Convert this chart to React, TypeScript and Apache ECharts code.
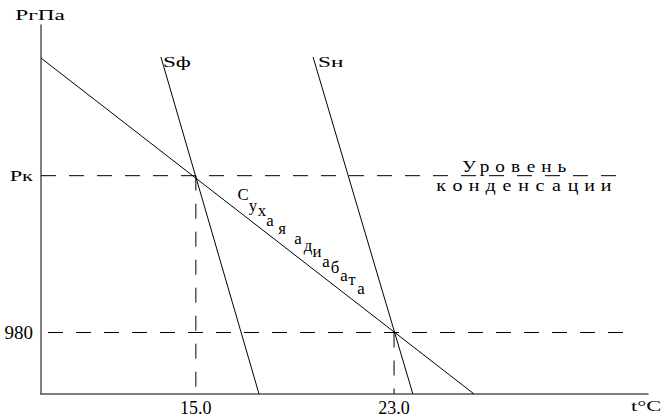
import React, { useEffect, useRef } from "react";
import * as echarts from "echarts";

// Temperature (°C) and pressure (hPa) of the two marked levels
const TEMP_TICKS = [15.0, 23.0];
const P_GROUND = 980;
const P_COND = 878; // condensation level, labelled "Pк"
const PRESSURE_TICKS = [P_COND, P_GROUND];

// Line endpoints as [t, p]
const dryAdiabat = [
  [8.75, 801.5],
  [26.23, 1020],
];
const isoSf = [
  [17.55, 1020],
  [13.59, 800.8],
];
const isoSn = [
  [23.76, 1020],
  [19.73, 800.8],
];
const condLevel = [
  [8.75, P_COND],
  [32.1, P_COND],
];
const groundLevel = [
  [8.75, P_GROUND],
  [32.3, P_GROUND],
];
const condTemp = [
  [15.0, P_COND],
  [15.0, 1020],
];
const groundTemp = [
  [23.0, P_GROUND],
  [23.0, 1020],
];

const LEVEL_WORD_1 = "Уровень";
const LEVEL_WORD_2 = "конденсации";
const ADIABAT_TEXT = "Сухая адиабата";

const FONT = "'Liberation Serif', 'Times New Roman', serif";

export default function App() {
  const ref = useRef<HTMLDivElement>(null);

  useEffect(() => {
    if (!ref.current) return;
    const chart = echarts.init(ref.current, null, { renderer: "svg" });

    const solid = { color: "#000", width: 1 };
    const dashed = { color: "#000", width: 1, type: [15, 13] as number[] };
    const line = (data: number[][], lineStyle: any, z = 2) => ({
      type: "line",
      data,
      showSymbol: false,
      symbol: "none",
      silent: true,
      z,
      lineStyle,
    });

    chart.setOption({
      animation: false,
      backgroundColor: "#fff",
      grid: { left: 41, right: 16, top: 25, bottom: 23, containLabel: false },
      xAxis: {
        type: "value",
        min: 8.75,
        max: 33.25,
        splitLine: { show: false },
        axisLine: { show: true, onZero: false, lineStyle: { color: "#555", width: 1.5 } },
        axisTick: { show: false },
        axisLabel: {
          customValues: TEMP_TICKS,
          formatter: (v: number) => v.toFixed(1),
          color: "#000",
          fontFamily: FONT,
          fontSize: 18,
          margin: 5,
        },
      },
      yAxis: {
        type: "value",
        inverse: true,
        min: 780,
        max: 1020,
        splitLine: { show: false },
        axisLine: { show: true, onZero: false, lineStyle: { color: "#555", width: 1.5 } },
        axisTick: { show: false },
        axisLabel: {
          customValues: [P_GROUND],
          formatter: (v: number) => String(v),
          color: "#000",
          fontFamily: FONT,
          fontSize: 19,
          margin: 8,
        },
      },
      series: [
        line(condLevel, { ...dashed }),
        line(groundLevel, { ...dashed, dashOffset: 21 }),
        line(condTemp, { ...dashed }),
        line(groundTemp, { ...dashed }),
        line(dryAdiabat, solid, 3),
        line(isoSf, solid, 3),
        line(isoSn, solid, 3),
      ],
    });

    const txt = (
      text: string,
      x: number,
      y: number,
      size: number,
      scaleX = 1,
      align = "center"
    ) => ({
      type: "text",
      x,
      y,
      scaleX,
      style: {
        text,
        fill: "#000",
        font: `${size}px ${FONT}`,
        textAlign: align,
        textVerticalAlign: "middle",
      },
    });

    const graphics: any[] = [];

    // axis names
    graphics.push(txt("PгПа", 40, 15, 15, 1.55));
    graphics.push(txt("t°C", 646, 406, 15, 1.5));

    // condensation pressure mark on the vertical axis
    const pk = chart.convertToPixel({ gridIndex: 0 }, [8.75, PRESSURE_TICKS[0]]) as number[];
    graphics.push(txt("Pк", 33, pk[1], 14, 1.6, "right"));

    // isoline labels next to their upper ends
    const sfTop = chart.convertToPixel({ gridIndex: 0 }, isoSf[1]) as number[];
    const snTop = chart.convertToPixel({ gridIndex: 0 }, isoSn[1]) as number[];
    graphics.push(txt("Sф", sfTop[0] + 2, sfTop[1] + 5, 15, 1.55, "left"));
    graphics.push(txt("Sн", snTop[0] + 5, snTop[1] + 5, 15, 1.55, "left"));

    // spaced-out caption of the condensation level
    Array.from(LEVEL_WORD_1).forEach((ch, i) => {
      graphics.push(txt(ch, 469 + 15.5 * i, 167, 16, 1.2));
    });
    Array.from(LEVEL_WORD_2).forEach((ch, i) => {
      graphics.push(txt(ch, 441 + 16.5 * i, 186, 16, 1.25));
    });

    // staggered caption along the dry adiabat
    const adiabatLetters: number[][] = [
      [243, 195], [253, 206], [262, 211], [270, 221], [282, 229],
      [298, 239], [308, 246], [317, 252], [326, 262], [335, 268],
      [344, 276], [352, 280], [361, 289],
    ];
    Array.from(ADIABAT_TEXT.replace(" ", "")).forEach((ch, i) => {
      const [x, y] = adiabatLetters[i];
      graphics.push(txt(ch, x, y, 16, 1.05));
    });

    chart.setOption({ graphic: graphics });

    return () => chart.dispose();
  }, []);

  return <div ref={ref} style={{ width: 664, height: 417, position: "absolute", left: 0, top: 0 }} />;
}
